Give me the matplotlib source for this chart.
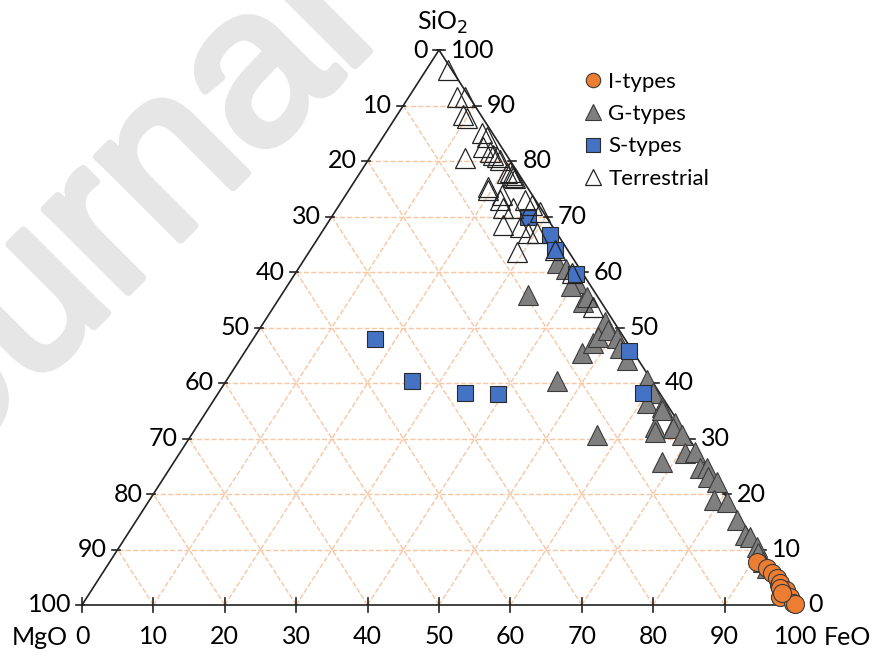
import numpy as np
import matplotlib
matplotlib.use("Agg")
import matplotlib.pyplot as plt
import matplotlib.patheffects as pe

plt.rcParams['font.family'] = ['Lato', 'DejaVu Sans']

# compositions in wt% (SiO2, FeO, MgO)
terr_sio2 = [96.4, 91.5, 91.5, 88.3, 87.7, 80.5, 85.0, 84.3, 82.5, 81.6, 81.1, 80.2, 78.0, 77.8,
             75.3, 73.9, 80.7, 74.8, 73.0, 71.5, 71.5, 73.0, 72.1, 70.8, 68.5, 68.1, 67.0, 67.0,
             63.6, 64.0, 53.7, 77.5, 77.2, 77.0, 59.8]
terr_feo = [3.1, 6.8, 7.9, 9.2, 10.1, 13.4, 13.5, 14.6, 14.9, 16.3, 17.0, 18.4, 20.9, 20.6,
            19.2, 21.9, 17.8, 19.5, 22.0, 23.2, 24.6, 25.5, 27.0, 28.7, 24.7, 27.3, 29.0, 30.2,
            29.1, 34.2, 44.7, 21.5, 21.7, 22.2, 38.7]
terr_mgo = [0.5, 1.7, 0.6, 2.5, 2.2, 6.1, 1.5, 1.1, 2.6, 2.1, 1.9, 1.4, 1.1, 1.6,
            5.5, 4.2, 1.5, 5.7, 5.0, 5.3, 3.9, 1.5, 0.9, 0.5, 6.8, 4.6, 4.0, 2.8,
            7.3, 1.8, 1.6, 1.0, 1.1, 0.8, 1.5]

s_sio2 = [69.9, 66.7, 64.0, 59.6, 45.8, 38.2, 47.9, 40.4, 38.2, 38.0]
s_feo = [27.5, 32.2, 34.2, 39.4, 53.7, 59.5, 17.1, 26.0, 34.5, 39.3]
s_mgo = [2.6, 1.1, 1.8, 1.0, 0.5, 2.3, 35.0, 33.6, 27.3, 22.7]

g_sio2 = [55.9, 40.4, 30.6, 45.4, 47.2, 54.6, 51.0, 48.3, 49.5, 48.1, 46.3, 44.1, 40.5, 38.2,
          36.4, 35.7, 32.1, 32.8, 35.1, 31.2, 31.9, 30.6, 25.8, 27.4, 27.6, 24.7, 24.7, 23.1,
          22.2, 18.9, 18.6, 15.3, 12.6, 12.3, 10.5, 9.4, 7.7, 6.7, 61.6, 58.0, 55.5, 60.5, 57.5]
g_feo = [34.5, 46.3, 56.8, 47.3, 48.0, 42.9, 47.7, 48.1, 48.9, 50.9, 52.2, 54.3, 58.9, 60.9,
         60.9, 63.4, 64.2, 66.7, 63.7, 64.7, 66.8, 68.7, 68.3, 70.8, 72.1, 74.2, 75.2, 76.1,
         77.8, 79.0, 81.0, 84.1, 86.6, 87.4, 89.3, 90.0, 91.5, 92.6, 35.7, 40.3, 43.0, 37.5, 39.8]
g_mgo = [9.6, 13.3, 12.6, 7.3, 4.8, 2.5, 1.3, 3.6, 1.6, 1.0, 1.5, 1.6, 0.6, 0.9,
         2.7, 0.9, 3.7, 0.5, 1.2, 4.1, 1.3, 0.7, 5.9, 1.8, 0.3, 1.1, 0.1, 0.8,
         0.0, 2.1, 0.4, 0.6, 0.8, 0.3, 0.2, 0.6, 0.8, 0.7, 2.7, 1.7, 1.5, 2.0, 2.7]

i_sio2 = [7.7, 6.7, 5.8, 4.9, 3.6, 4.0, 2.7, 2.7, 1.8, 1.4, 1.4, 0.4, 0.2, 3.0, 2.2]
i_feo = [90.7, 92.6, 93.7, 94.9, 95.8, 95.8, 96.7, 97.3, 97.6, 98.5, 97.1, 99.4, 99.7, 96.2, 97.0]
i_mgo = [1.6, 0.7, 0.5, 0.2, 0.6, 0.2, 0.6, 0.0, 0.6, 0.1, 1.5, 0.2, 0.1, 0.8, 0.8]

ticks = [0, 10, 20, 30, 40, 50, 60, 70, 80, 90, 100]


def tern(sio2, feo, mgo):
    s = np.array(sio2, float)
    f = np.array(feo, float)
    m = np.array(mgo, float)
    tot = s + f + m
    s, f = s / tot * 100, f / tot * 100
    return f + s / 2, s


W, H = 877, 657
fig = plt.figure(figsize=(W / 100, H / 100), dpi=100)
ax = fig.add_axes([82 / W, 52 / H, 714 / W, 555 / H])
ax.set_xlim(0, 100)
ax.set_ylim(0, 100)
ax.axis('off')
px = 100 / 714
py = 100 / 555

# watermark
fig.text(-136 / W, 1 - 556 / H, "Journal", rotation=45, rotation_mode='anchor',
         ha='left', va='baseline', fontsize=160, color='#e6e6e6',
         family='Liberation Sans', zorder=0,
         path_effects=[pe.withStroke(linewidth=6, foreground='#e6e6e6')])

# grid
gc = '#f7c6a3'
for t in ticks[1:-1]:
    ax.plot([t / 2, 100 - t / 2], [t, t], color=gc, ls='--', lw=1, zorder=1)
    ax.plot([t, t + (100 - t) / 2], [0, 100 - t], color=gc, ls='--', lw=1, zorder=1)
    ax.plot([t, t / 2], [0, t], color=gc, ls='--', lw=1, zorder=1)

# triangle frame
ax.plot([0, 100, 50, 0], [0, 0, 100, 0], color='#222222', lw=1.2, zorder=2, clip_on=False)

fs = 18
for t in ticks:
    # bottom axis: FeO
    ax.plot([t, t], [-7 * py, 7 * py], color='#222222', lw=1.2, clip_on=False)
    ax.text(t, -32 * py, str(t), ha='center', va='center', fontsize=fs)
    # left edge
    xl = t / 2
    ax.plot([xl - 6 * px, xl + 2 * px], [t, t], color='#222222', lw=1.2, clip_on=False)
    ax.text(xl - 11 * px, t, str(100 - t), ha='right', va='center', fontsize=fs)
    # right edge: SiO2
    xr = 100 - t / 2
    ax.plot([xr - 2 * px, xr + 6 * px], [t, t], color='#222222', lw=1.2, clip_on=False)
    ax.text(xr + 12 * px, t, str(t), ha='left', va='center', fontsize=fs)

ax.text(50.5, 105, "SiO$_2$", ha='center', va='center', fontsize=fs)
ax.text(-5.9, -5.9, "MgO", ha='center', va='center', fontsize=fs)
ax.text(107.2, -5.8, "FeO", ha='center', va='center', fontsize=fs)

x, y = tern(g_sio2, g_feo, g_mgo)
ax.plot(x, y, '^', ms=14, mfc='#7f7f7f', mec='#3a3a3a', mew=0.8, ls='none', zorder=3,
        clip_on=False, label='G-types')
x, y = tern(s_sio2, s_feo, s_mgo)
ax.plot(x, y, 's', ms=12, mfc='#4472c4', mec='#2a2a2a', mew=0.8, ls='none', zorder=4,
        clip_on=False, label='S-types')
x, y = tern(terr_sio2, terr_feo, terr_mgo)
ax.plot(x, y, '^', ms=14, mfc='none', mec='#222222', mew=0.9, ls='none', zorder=5,
        clip_on=False, label='Terrestrial')
x, y = tern(i_sio2, i_feo, i_mgo)
ax.plot(x, y, 'o', ms=13, mfc='#ed7d31', mec='#3a3a3a', mew=0.8, ls='none', zorder=6,
        clip_on=False, label='I-types')

h, l = ax.get_legend_handles_labels()
order = [3, 0, 1, 2]
ax.legend([h[i] for i in order], [l[i] for i in order], loc='upper left',
          bbox_to_anchor=(584 / W, 1 - 72 / H), bbox_transform=fig.transFigure,
          frameon=False, fontsize=16, markerscale=0.8, handlelength=0.8,
          handletextpad=0.3, labelspacing=0.55, borderaxespad=0, borderpad=0)

fig.savefig("out.png", dpi=100)
